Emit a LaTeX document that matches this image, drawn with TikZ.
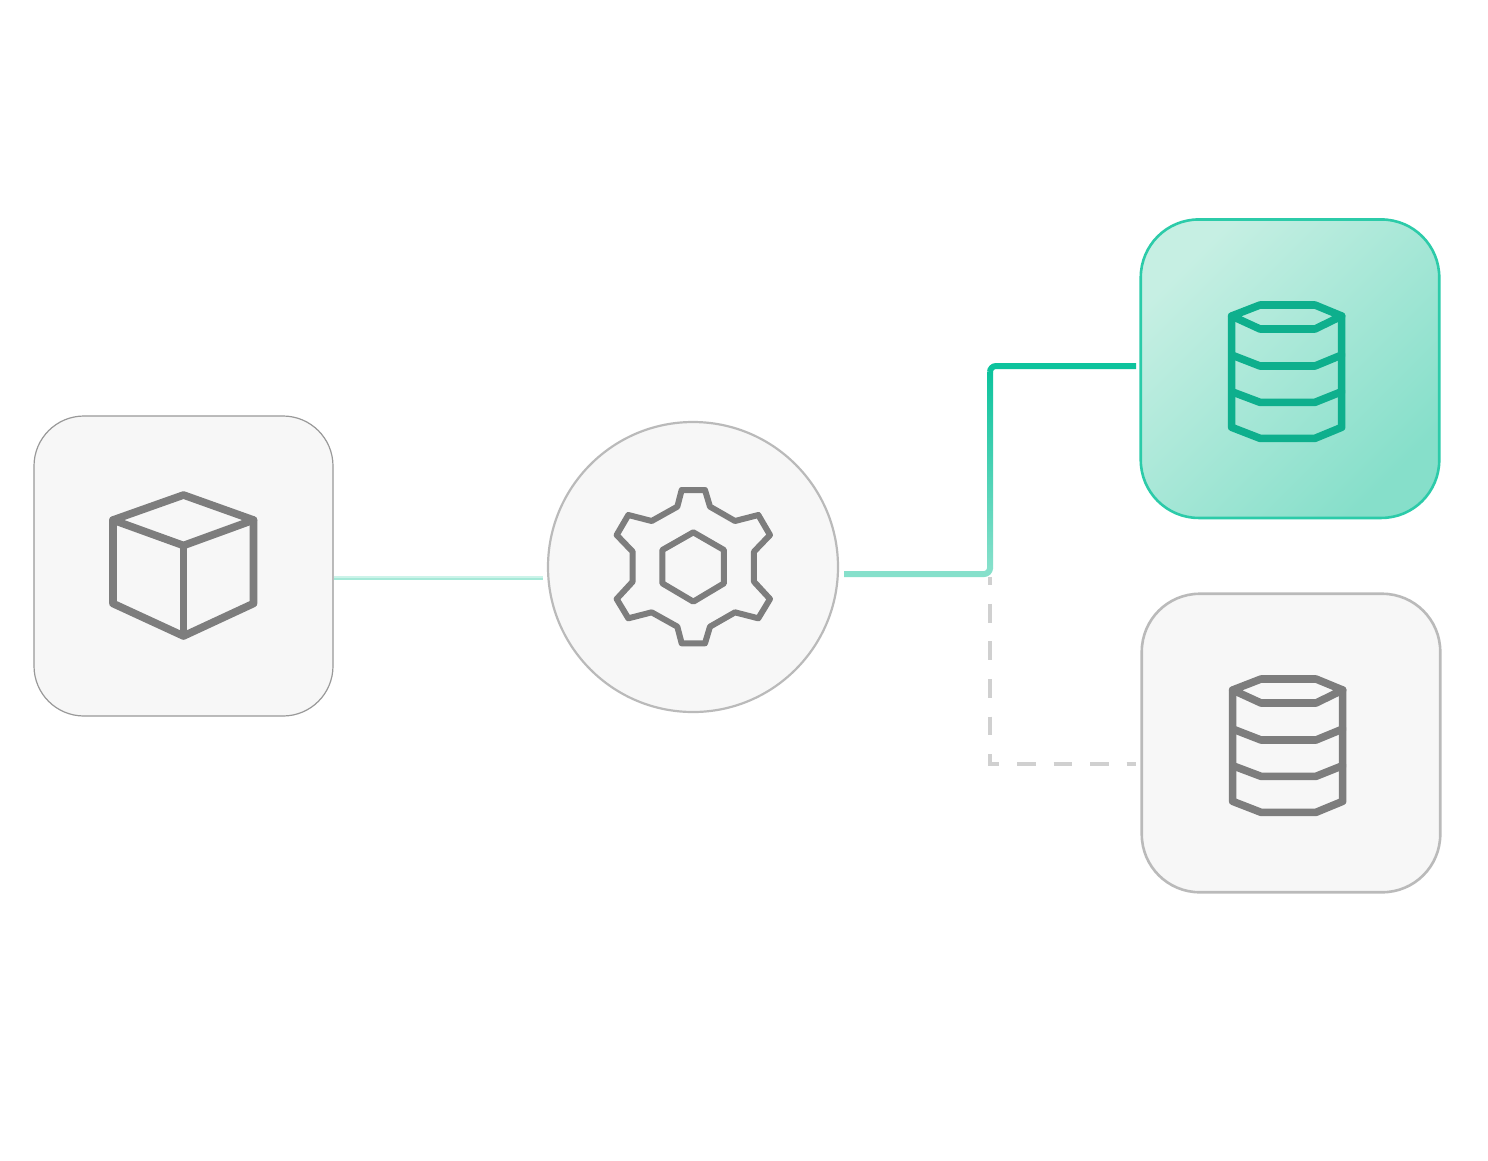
\documentclass[tikz,border=0pt]{standalone}
\definecolor{panel}{HTML}{F7F7F7}
\definecolor{icongray}{HTML}{7D7D7D}
\definecolor{icongreen}{HTML}{0EAF8D}
\definecolor{edgegreen}{HTML}{2CCBA9}
\definecolor{edgegray}{HTML}{BABABA}
\definecolor{edgethin}{HTML}{999999}
\definecolor{gradlight}{HTML}{C6EFE3}
\definecolor{graddark}{HTML}{86DFCA}
\definecolor{linetop}{HTML}{0DC39D}
\definecolor{linelow}{HTML}{86E0CB}
\definecolor{fainttop}{HTML}{CCF3E9}
\definecolor{faintlow}{HTML}{A6E9D8}
\definecolor{dashgray}{HTML}{D0D0D0}
\tikzset{
  x=1pt,y=-1pt,
  panelbox/.style={rectangle,inner sep=0pt,outer sep=0pt,minimum width=#1,minimum height=#1},
  iconline/.style={draw=#1,line width=7.6pt,line join=round,line cap=round,fill=none},
  gearline/.style={draw=icongray,line width=6pt,line join=round,line cap=round,fill=none},
  dbicon/.pic={
    \draw[iconline=#1] (65,78)--(150,45)--(315,45)--(395,78)--(315,117)--(150,117)--cycle;
    \draw[iconline=#1] (65,78)--(65,412)--(150,445)--(315,445)--(395,412)--(395,78);
    \draw[iconline=#1] (65,195)--(150,228)--(315,228)--(395,195);
    \draw[iconline=#1] (65,305)--(150,337)--(315,337)--(395,305);
  }
}
\begin{document}
\begin{tikzpicture}
\useasboundingbox (0,0) rectangle (1488,1160);
\fill[white] (0,0) rectangle (1488,1160);

% boxes
\node[panelbox=299pt,minimum height=300pt,rounded corners=50pt,draw=edgethin,line width=1.2pt,fill=panel] (source) at (183.5,566) {};
\node[circle,inner sep=0pt,outer sep=0pt,minimum size=290pt,draw=edgegray,line width=2.2pt,fill=panel] (engine) at (693,567) {};
\node[panelbox=298.5pt,rounded corners=58pt,draw=edgegreen,line width=2.6pt,top color=gradlight,bottom color=graddark,shading angle=45] (primary) at (1290,368.7) {};
\node[panelbox=298.5pt,rounded corners=58pt,draw=edgegray,line width=2.6pt,fill=panel] (replica) at (1291,743) {};

% connector anchors
\coordinate (srcout) at (334,578);
\coordinate (engin) at (543,578);
\coordinate (engout) at (844,574);
\coordinate (junction) at (990,574);
\coordinate (bend) at (990,366);
\coordinate (priin) at (1136,366);
\coordinate (dashstart) at (990,577);
\coordinate (dashbend) at (990,766);
\coordinate (dashturn) at (988,764);
\coordinate (repin) at (1136,764);

% faint connector
\draw[fainttop,line width=2pt] ([yshift=1pt]srcout) -- ([yshift=1pt]engin);
\draw[faintlow,line width=2pt] ([yshift=-1pt]srcout) -- ([yshift=-1pt]engin);

% dashed connector
\draw[dashgray,line width=4pt,dash pattern=on 18.8pt off 18.8pt,dash phase=10.8pt]
  (dashstart) -- (dashbend);
\draw[dashgray,line width=4pt,dash pattern=on 18.5pt off 18pt,dash phase=7.5pt]
  (dashturn) -- (repin);

% active connector
\shade[bottom color=linelow,top color=linetop] (987,372) rectangle (993,568.2);
\draw[linelow,line width=6pt] (engout) -- (984,574) arc[start angle=-90,end angle=0,radius=6pt];
\draw[linetop,line width=6pt] (990,372) arc[start angle=180,end angle=90,radius=6pt] -- (priin);

% cube icon
\draw[iconline=icongray] (113,520)--(183.5,495)--(253.5,520)--(183.5,545.5)--cycle;
\draw[iconline=icongray] (113,520)--(113,603.5)--(183.5,636)--(253.5,603.5)--(253.5,520);
\draw[iconline=icongray] (183.5,545.5)--(183.5,636);

% gear icon
\begin{scope}[shift={(600,475)},x=0.3333pt,y=-0.3333pt]
\draw[gearline] (245,45)--(315,45)--(330,95)--(405,138)--(475,120)--(510,180)--(462,230)--(462,320)--(510,372)--(475,430)--(405,412)--(330,455)--(315,505)--(245,505)--(232,455)--(155,412)--(85,430)--(50,372)--(98,320)--(98,230)--(50,180)--(85,120)--(155,138)--(232,95)--cycle;
\draw[gearline] (280,172)--(372,225)--(372,325)--(280,380)--(187,325)--(187,225)--cycle;
\end{scope}

% database icons
\begin{scope}[shift={(1210,290)},x=0.3333pt,y=-0.3333pt]
\pic {dbicon=icongreen};
\end{scope}
\begin{scope}[shift={(1211,664)},x=0.3333pt,y=-0.3333pt]
\pic {dbicon=icongray};
\end{scope}
\end{tikzpicture}
\end{document}
